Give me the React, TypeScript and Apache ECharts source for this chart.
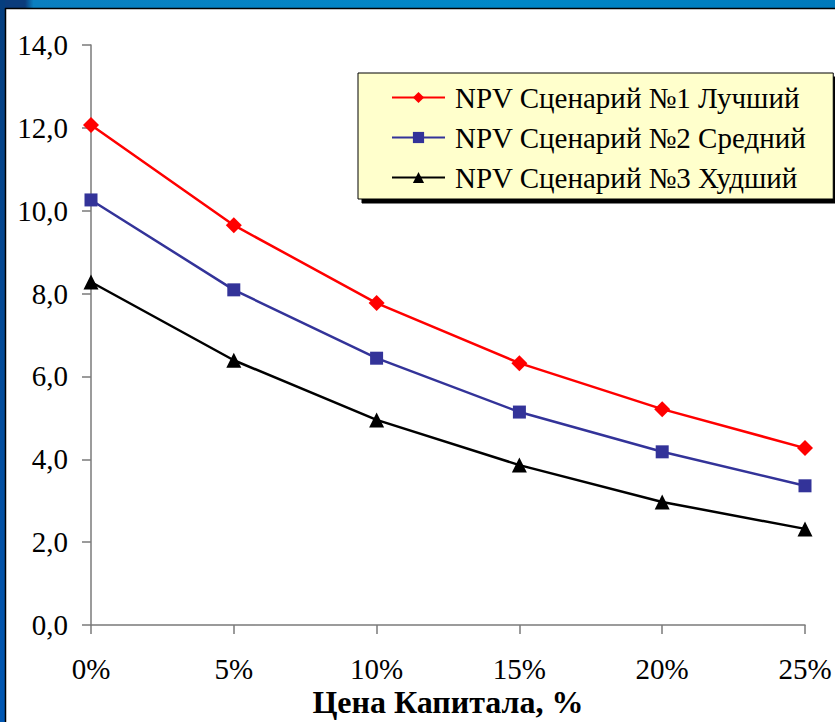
import React, { useEffect, useRef } from "react";
import * as echarts from "echarts";

const categories = ["0%", "5%", "10%", "15%", "20%", "25%"];
const bestValues = [12.07, 9.65, 7.77, 6.32, 5.21, 4.27];
const midValues = [10.26, 8.09, 6.44, 5.14, 4.18, 3.36];
const worstValues = [8.28, 6.39, 4.95, 3.86, 2.97, 2.32];
const seriesNames = [
  "NPV Сценарий №1 Лучший",
  "NPV Сценарий №2 Средний",
  "NPV Сценарий №3 Худший",
];
const xTitle = "Цена Капитала, %";

const FONT = "Liberation Serif";

export default function App() {
  const ref = useRef<HTMLDivElement>(null);
  useEffect(() => {
    document.body.style.margin = "0";
    const chart = echarts.init(ref.current!, null, { renderer: "svg" });
    chart.setOption({
      animation: false,
      backgroundColor: "#ffffff",
      textStyle: { fontFamily: FONT },
      grid: { left: 91, top: 45, right: 30, bottom: 97, containLabel: false },
      graphic: [
        {
          type: "rect",
          shape: { x: 0, y: 0, width: 835, height: 8 },
          style: {
            fill: new echarts.graphic.LinearGradient(0, 0, 1, 0, [
              { offset: 0, color: "#0b3c7c" },
              { offset: 0.03, color: "#0b3c7c" },
              { offset: 0.04, color: "#0a7fc0" },
              { offset: 0.6, color: "#0088c8" },
              { offset: 1, color: "#0079bb" },
            ]),
          },
          z: 10,
        },
        {
          type: "rect",
          shape: { x: 0, y: 0, width: 5, height: 722 },
          style: {
            fill: new echarts.graphic.LinearGradient(0, 0, 0, 1, [
              { offset: 0, color: "#053e7e" },
              { offset: 1, color: "#0057b3" },
            ]),
          },
          z: 10,
        },
        {
          type: "line",
          shape: { x1: 5, y1: 8.5, x2: 835, y2: 8.5 },
          style: { stroke: "#000", lineWidth: 1.5 },
          z: 10,
        },
        {
          type: "line",
          shape: { x1: 5.5, y1: 8, x2: 5.5, y2: 722 },
          style: { stroke: "#000", lineWidth: 1.5 },
          z: 10,
        },
        {
          type: "text",
          x: 448,
          y: 716,
          style: {
            text: xTitle,
            fontFamily: FONT,
            fontSize: 32,
            fontWeight: "bold",
            lineHeight: 28,
            fill: "#000",
            align: "center",
            verticalAlign: "bottom",
          },
        },
      ],
      legend: {
        orient: "vertical",
        left: 358,
        top: 73,
        backgroundColor: "#FFFFCC",
        borderColor: "#000",
        borderWidth: 1,
        shadowColor: "#000",
        shadowOffsetX: 4,
        shadowOffsetY: 4,
        shadowBlur: 0,
        padding: [9, 27, 6, 33],
        itemWidth: 53,
        itemHeight: 14,
        itemGap: 9,
        textStyle: {
          fontFamily: FONT,
          fontSize: 29,
          color: "#000",
          lineHeight: 31,
          padding: [0, 0, 0, 5],
        },
        data: seriesNames,
      },
      xAxis: {
        type: "category",
        data: categories,
        boundaryGap: false,
        axisLine: { lineStyle: { color: "#7a7a7a", width: 1.5 } },
        axisTick: { alignWithLabel: true, length: 9, lineStyle: { color: "#7a7a7a", width: 1.5 } },
        axisLabel: { fontFamily: FONT, fontSize: 29, lineHeight: 24, color: "#000", margin: 32 },
        splitLine: { show: false },
      },
      yAxis: {
        type: "value",
        min: 0,
        max: 14,
        interval: 2,
        axisLine: { show: true, lineStyle: { color: "#7a7a7a", width: 1.5 } },
        axisTick: { show: true, length: 9, lineStyle: { color: "#7a7a7a", width: 1.5 } },
        axisLabel: {
          fontFamily: FONT,
          fontSize: 29,
          color: "#000",
          margin: 23,
          formatter: (v: number) => v.toFixed(1).replace(".", ","),
        },
        splitLine: { show: false },
      },
      series: [
        {
          name: seriesNames[0],
          type: "line",
          data: bestValues,
          symbol: "diamond",
          symbolSize: 16,
          lineStyle: { color: "#ff0000", width: 2.5 },
          itemStyle: { color: "#ff0000" },
        },
        {
          name: seriesNames[1],
          type: "line",
          data: midValues,
          symbol: "rect",
          symbolSize: 13,
          lineStyle: { color: "#333399", width: 2.5 },
          itemStyle: { color: "#333399" },
        },
        {
          name: seriesNames[2],
          type: "line",
          data: worstValues,
          symbol: "triangle",
          symbolSize: 15,
          lineStyle: { color: "#000000", width: 2.5 },
          itemStyle: { color: "#000000" },
        },
      ],
    });
    return () => chart.dispose();
  }, []);
  return <div ref={ref} style={{ width: 835, height: 722 }} />;
}
